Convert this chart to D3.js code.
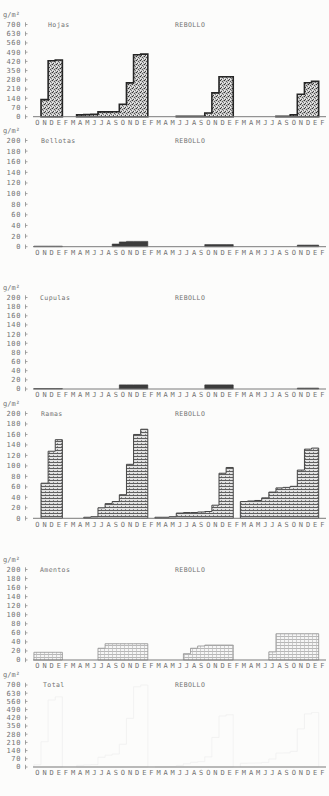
<!DOCTYPE html>
<html><head><meta charset="utf-8">
<script src="https://cdn.jsdelivr.net/npm/d3@7"></script>
<style>
html,body{margin:0;padding:0;background:#fcfcfb;}
svg{display:block;}
text{font-family:"DejaVu Sans Mono",monospace;fill:#727272;}
</style></head><body>
<svg id="c" width="329" height="796"></svg>
<script>
const months = ["O","N","D","E","F","M","A","M","J","J","A","S","O","N","D","E","F","M","A","M","J","J","A","S","O","N","D","E","F","M","A","M","J","J","A","S","O","N","D","E","F"];
const ticks700 = [0,70,140,210,280,350,420,490,560,630,700];
const ticks200 = [0,20,40,60,80,100,120,140,160,180,200];
const titles = ["Hojas","Bellotas","Cupulas","Ramas","Amentos","Total"];
const species = "REBOLLO";
const unit = "g/m²";

const hojas    = [0, 130,425,430, 0,0,14,16,18,37,37,38,95,257,470,475, 0,0,0,0,3,3,3,3,28,181,303,303, 0,0,0,0,0,0,3,3,14,171,258,268, 0];
const bellotas = [1, 1,1,1, 0,0,0,0,0,0,0,5,9,10,10,10, 0,0,0,0,0,0,0,0,4,4,4,4, 0,0,0,0,0,0,0,0,0,3,3,3, 0];
const cupulas  = [1, 1,1,1, 0,0,0,0,0,0,0,0,9,9,9,9, 0,0,0,0,0,0,0,0,9,9,9,9, 0,0,0,0,0,0,0,0,0,2,2,2, 0];
const ramas    = [0, 67,128,150, 0,0,0,2,3,20,28,32,45,103,160,170, 0,2,2,3,10,11,11,12,13,25,86,97, 0,32,33,34,39,50,58,59,61,92,132,134, 0];
const amentos  = [17, 17,17,17, 0,0,0,0,0,26,36,36,36,36,36,36, 0,0,0,0,0,14,26,31,33,33,33,33, 0,0,0,0,0,18,58,58,58,58,58,58, 0];
const total    = [19, 216,572,599, 0,0,14,18,21,83,101,111,194,415,685,700, 0,2,2,3,13,28,40,46,87,252,435,446, 0,32,33,34,39,68,119,120,133,326,453,465, 0];

const svg = d3.select("#c");
const defs = svg.append("defs");

// stipple pattern (Hojas)
const p1 = defs.append("pattern").attr("id","stip").attr("width",4).attr("height",4).attr("patternUnits","userSpaceOnUse");
p1.append("rect").attr("width",4).attr("height",4).attr("fill","#c8c8c8");
[[0,0,"#333"],[2,1,"#555"],[1,3,"#444"],[3,2,"#777"],[2,3,"#f0f0f0"],[0,2,"#eee"],[3,0,"#999"]].forEach(d=>p1.append("rect").attr("x",d[0]).attr("y",d[1]).attr("width",1).attr("height",1).attr("fill",d[2]));
// horizontal hatch (Ramas)
const p2 = defs.append("pattern").attr("id","hatch").attr("width",4).attr("height",3).attr("patternUnits","userSpaceOnUse");
p2.append("rect").attr("width",4).attr("height",3).attr("fill","#e2e2e2");
p2.append("rect").attr("y",0).attr("width",4).attr("height",1).attr("fill","#5e5e5e");
p2.append("rect").attr("x",1).attr("y",2).attr("width",1).attr("height",1).attr("fill","#8a8a8a");
// grid (Amentos)
const p3 = defs.append("pattern").attr("id","grid").attr("width",4).attr("height",3).attr("patternUnits","userSpaceOnUse");
p3.append("rect").attr("width",4).attr("height",3).attr("fill","#f6f6f6");
p3.append("rect").attr("y",0).attr("width",4).attr("height",0.8).attr("fill","#a8a8a8");
p3.append("rect").attr("x",0).attr("width",0.7).attr("height",3).attr("fill","#bdbdbd");

const styles = {
  hojas:   {fill:"url(#stip)", stroke:"#262626", sw:1.6},
  bellotas:{fill:"#3c3c3c", stroke:"#333", sw:0.6},
  cupulas: {fill:"#3c3c3c", stroke:"#333", sw:0.6},
  ramas:   {fill:"url(#hatch)", stroke:"#444", sw:1},
  amentos: {fill:"url(#grid)", stroke:"#909090", sw:0.8},
  total:   {fill:"none", stroke:"#f0f0f0", sw:0.8}
};

const panels = [
  {title:titles[0], data:hojas,    ticks:ticks700, top:24.5, zero:116.7, st:styles.hojas,    tx:48},
  {title:titles[1], data:bellotas, ticks:ticks200, top:140.5, zero:246.7, st:styles.bellotas, tx:41},
  {title:titles[2], data:cupulas,  ticks:ticks200, top:297.5, zero:389,   st:styles.cupulas,  tx:40},
  {title:titles[3], data:ramas,    ticks:ticks200, top:413.5, zero:518.3, st:styles.ramas,    tx:41},
  {title:titles[4], data:amentos,  ticks:ticks200, top:569.5, zero:660,   st:styles.amentos,  tx:40},
  {title:titles[5], data:total,    ticks:ticks700, top:685,   zero:767,   st:styles.total,    tx:43}
];

const x = d3.scaleBand().domain(d3.range(months.length)).range([33.9, 325.8]).padding(0);

function runs(vals){
  const out=[]; let cur=null;
  vals.forEach((v,i)=>{ if(v>0){ if(!cur){cur=[];out.push(cur);} cur.push(i);} else cur=null; });
  return out;
}

panels.forEach(p=>{
  const g = svg.append("g");
  const maxV = p.ticks[p.ticks.length-1];
  const y = d3.scaleLinear().domain([0,maxV]).range([p.zero,p.top]);

  g.append("text").attr("x",3).attr("y",p.top-8).attr("font-size",7).text(unit);
  g.append("text").attr("x",p.tx).attr("y",p.top).attr("dy","0.35em").attr("font-size",6.5).attr("letter-spacing",0.4).text(p.title);
  g.append("text").attr("x",175).attr("y",p.top).attr("dy","0.35em").attr("font-size",6.5).attr("letter-spacing",0.4).text(species);

  const yt = g.append("g").selectAll("g").data(p.ticks).join("g").attr("transform",d=>`translate(0,${y(d)})`);
  yt.append("text").attr("x",21).attr("dy","0.35em").attr("text-anchor","end").attr("font-size",7).attr("letter-spacing",0.6).text(d=>d);
  yt.append("line").attr("x1",25.5).attr("x2",25.5).attr("y1",-2.2).attr("y2",2.2).attr("stroke","#8a8a8a").attr("stroke-width",0.8);
  yt.append("line").attr("x1",25.5).attr("x2",27.5).attr("y1",0).attr("y2",0).attr("stroke","#8a8a8a").attr("stroke-width",0.8);

  const area = d3.area().x(d=>d.x).y0(y(0)).y1(d=>y(d.v)).curve(d3.curveStepAfter);
  runs(p.data).forEach(r=>{
    const pts = r.map(i=>({x:x(i), v:p.data[i]}));
    const last = r[r.length-1];
    pts.push({x:x(last)+x.bandwidth(), v:p.data[last]});
    g.append("path").attr("d",area(pts)).attr("fill",p.st.fill).attr("stroke",p.st.stroke).attr("stroke-width",p.st.sw).attr("stroke-linejoin","miter");
  });

  g.append("line").attr("x1",33).attr("x2",326).attr("y1",y(0)).attr("y2",y(0)).attr("stroke","#7a7a7a").attr("stroke-width",1);

  g.append("g").selectAll("text").data(months).join("text")
    .attr("x",(d,i)=>x(i)+x.bandwidth()/2).attr("y",y(0)+6).attr("dy","0.35em")
    .attr("text-anchor","middle").attr("font-size",7).text(d=>d);
});
</script>
</body></html>
